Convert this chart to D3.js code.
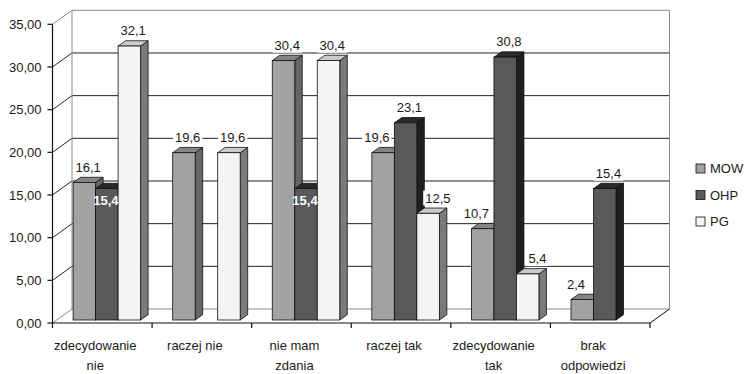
<!DOCTYPE html>
<html>
<head>
<meta charset="utf-8">
<script src="https://cdn.jsdelivr.net/npm/d3@7/dist/d3.min.js"></script>
<style>
  html, body { margin: 0; padding: 0; background: #fff; }
  svg { display: block; font-family: "Liberation Sans", Arial, sans-serif; }
</style>
</head>
<body>
<svg id="chart" width="745" height="374"></svg>
<script>
// Survey answers, one group of three bars per answer
const categories = [
  ["zdecydowanie", "nie"],
  ["raczej nie"],
  ["nie mam", "zdania"],
  ["raczej tak"],
  ["zdecydowanie", "tak"],
  ["brak", "odpowiedzi"]
];
const seriesNames = ["MOW", "OHP", "PG"];
const mowValues = [16.1, 19.6, 30.4, 19.6, 10.7, 2.4];
const ohpValues = [15.4, null, 15.4, 23.1, 30.8, 15.4];
const pgValues  = [32.1, 19.6, 30.4, 12.5, 5.4, null];
const yTicks = [0, 5, 10, 15, 20, 25, 30, 35];

const seriesValues = [mowValues, ohpValues, pgValues];

// face colours per series: front, top, side
const palette = [
  { front: "#a2a2a2", top: "#858585", side: "#666666" },
  { front: "#595959", top: "#2a2a2a", side: "#1f1f1f" },
  { front: "#f4f4f4", top: "#cbcbcb", side: "#7a7a7a" }
];

const svg = d3.select("#chart");

// front plane of the 3D box
const x = d3.scaleBand().domain(d3.range(categories.length)).range([52.5, 650]).paddingInner(0).paddingOuter(0);
const y = d3.scaleLinear().domain([0, 35]).range([323, 24.3]);

// wall depth offset
const wallDx = 19.5, wallDy = -14;
// position of the bar row inside the box and bar thickness
const rowDx = 4.2, rowDy = -3;
const barDx = 7.5, barDy = -5.3;
const barW = 22.5;
const groupInset = 16.4;

const fmtAxis = d => d.toFixed(2).replace(".", ",");
const fmtVal = d => d.toFixed(1).replace(".", ",");

const x0 = x.range()[0], x1 = x.range()[1];
const yTop = y(35), yBase = y(0);

// ---- walls ----
const walls = svg.append("g");
// back wall gridlines
walls.selectAll("line.grid").data(yTicks.filter(t => t > 0 && t < 35)).join("line")
  .attr("x1", x0 + wallDx).attr("x2", x1 + wallDx)
  .attr("y1", d => y(d) + wallDy).attr("y2", d => y(d) + wallDy)
  .attr("stroke", "#222").attr("stroke-width", 1);
// side wall gridlines
walls.selectAll("line.side").data(yTicks.filter(t => t > 0)).join("line")
  .attr("x1", x0).attr("x2", x0 + wallDx)
  .attr("y1", d => y(d)).attr("y2", d => y(d) + wallDy)
  .attr("stroke", d => d === 35 ? "#888" : "#222").attr("stroke-width", 1);
// wall borders
const border = [
  [[x0 + wallDx, yTop + wallDy], [x1 + wallDx, yTop + wallDy]],
  [[x1 + wallDx, yTop + wallDy], [x1 + wallDx, yBase + wallDy]],
  [[x0 + wallDx, yTop + wallDy], [x0 + wallDx, yBase + wallDy]],
  [[x0 + wallDx, yBase + wallDy], [x1 + wallDx, yBase + wallDy]],
  [[x0, yBase], [x0 + wallDx, yBase + wallDy]]
];
walls.selectAll("line.border").data(border).join("line")
  .attr("x1", d => d[0][0]).attr("y1", d => d[0][1])
  .attr("x2", d => d[1][0]).attr("y2", d => d[1][1])
  .attr("stroke", "#8a8a8a").attr("stroke-width", 1);
// floor right edge
walls.append("line")
  .attr("x1", x1).attr("y1", yBase).attr("x2", x1 + wallDx).attr("y2", yBase + wallDy)
  .attr("stroke", "#111").attr("stroke-width", 1);

// ---- bars ----
const bars = [];
categories.forEach((c, ci) => {
  seriesValues.forEach((vals, si) => {
    const v = vals[ci];
    if (v == null) return;
    bars.push({ ci, si, v });
  });
});

const barG = svg.append("g");
function barGeom(b) {
  const bx0 = x(b.ci) + rowDx + groupInset + b.si * barW;
  const bx1 = bx0 + barW;
  const yb = y(0) + rowDy;
  const yt = y(b.v) + rowDy;
  return { bx0, bx1, yb, yt };
}
bars.forEach(b => {
  const g = barGeom(b);
  const col = palette[b.si];
  const grp = barG.append("g");
  grp.append("polygon")
    .attr("points", [[g.bx1, g.yt], [g.bx1 + barDx, g.yt + barDy], [g.bx1 + barDx, g.yb + barDy], [g.bx1, g.yb]].join(" "))
    .attr("fill", col.side).attr("stroke", "#111").attr("stroke-width", 0.8).attr("stroke-linejoin", "round");
  grp.append("polygon")
    .attr("points", [[g.bx0, g.yt], [g.bx0 + barDx, g.yt + barDy], [g.bx1 + barDx, g.yt + barDy], [g.bx1, g.yt]].join(" "))
    .attr("fill", col.top).attr("stroke", "#111").attr("stroke-width", 0.8).attr("stroke-linejoin", "round");
  grp.append("rect")
    .attr("x", g.bx0).attr("y", g.yt).attr("width", barW).attr("height", g.yb - g.yt)
    .attr("fill", col.front).attr("stroke", "#111").attr("stroke-width", 0.8);
});

// ---- axes ----
const axisG = svg.append("g");
axisG.append("line").attr("x1", x0).attr("x2", x0).attr("y1", yTop).attr("y2", yBase)
  .attr("stroke", "#111").attr("stroke-width", 1.2);
axisG.append("line").attr("x1", x0).attr("x2", x1).attr("y1", yBase).attr("y2", yBase)
  .attr("stroke", "#111").attr("stroke-width", 1.2);
axisG.selectAll("line.ytick").data(yTicks).join("line")
  .attr("x1", x0 - 5).attr("x2", x0).attr("y1", d => y(d)).attr("y2", d => y(d))
  .attr("stroke", "#111").attr("stroke-width", 1.2);
axisG.selectAll("text.ylab").data(yTicks).join("text")
  .attr("x", x0 - 11).attr("y", d => y(d)).attr("dy", "0.36em")
  .attr("text-anchor", "end").attr("font-size", 13).attr("fill", "#1a1a1a")
  .text(fmtAxis);
axisG.selectAll("line.xtick").data(d3.range(categories.length + 1)).join("line")
  .attr("x1", i => x0 + i * x.bandwidth()).attr("x2", i => x0 + i * x.bandwidth())
  .attr("y1", yBase).attr("y2", yBase + 5)
  .attr("stroke", "#111").attr("stroke-width", 1.2);
const catLab = axisG.selectAll("text.xlab").data(categories).join("text")
  .attr("text-anchor", "middle").attr("font-size", 13).attr("fill", "#1a1a1a");
catLab.each(function (lines, i) {
  const cx = x(i) + x.bandwidth() / 2 - 7;
  d3.select(this).selectAll("tspan").data(lines).join("tspan")
    .attr("x", cx).attr("y", (d, k) => 350 + k * 20).text(d => d);
});

// ---- value labels ----
const labG = svg.append("g");
bars.forEach(b => {
  const g = barGeom(b);
  const vals = seriesValues.map(a => a[b.ci]);
  const others = vals.filter((_, k) => k !== b.si);
  // OHP label goes inside its bar when both neighbours are taller
  const inside = b.si === 1 && others.every(o => o != null && o > b.v);
  // outer labels step aside when the middle bar rises above them
  const midTaller = b.si !== 1 && vals[1] != null && vals[1] > b.v;
  const shift = midTaller ? (b.si === 0 ? -10 : 6) : 0;
  const cx = (g.bx0 + g.bx1) / 2 + (inside ? -1 : barDx / 2) + shift;
  const by = inside ? g.yt + 16 : g.yt + barDy - 5.5;
  const t = labG.append("text")
    .attr("x", cx).attr("y", by).attr("text-anchor", "middle")
    .attr("font-size", 13)
    .attr("fill", inside ? "#fff" : "#1a1a1a")
    .attr("font-weight", inside ? "bold" : "normal")
    .text(fmtVal(b.v));
  if (!inside) {
    const bb = t.node().getBBox();
    labG.insert("rect", () => t.node())
      .attr("x", bb.x - 2).attr("y", bb.y).attr("width", bb.width + 4).attr("height", bb.height)
      .attr("fill", "#fff");
  }
});

// ---- legend ----
const leg = svg.append("g").attr("transform", "translate(696,164)");
const li = leg.selectAll("g").data(seriesNames).join("g")
  .attr("transform", (d, i) => `translate(0,${i * 26.5})`);
li.append("rect").attr("width", 9).attr("height", 9)
  .attr("fill", (d, i) => palette[i].front).attr("stroke", "#111").attr("stroke-width", 0.8);
li.append("text").attr("x", 14).attr("y", 4.5).attr("dy", "0.36em")
  .attr("font-size", 13).attr("fill", "#1a1a1a").text(d => d);
</script>
</body>
</html>
